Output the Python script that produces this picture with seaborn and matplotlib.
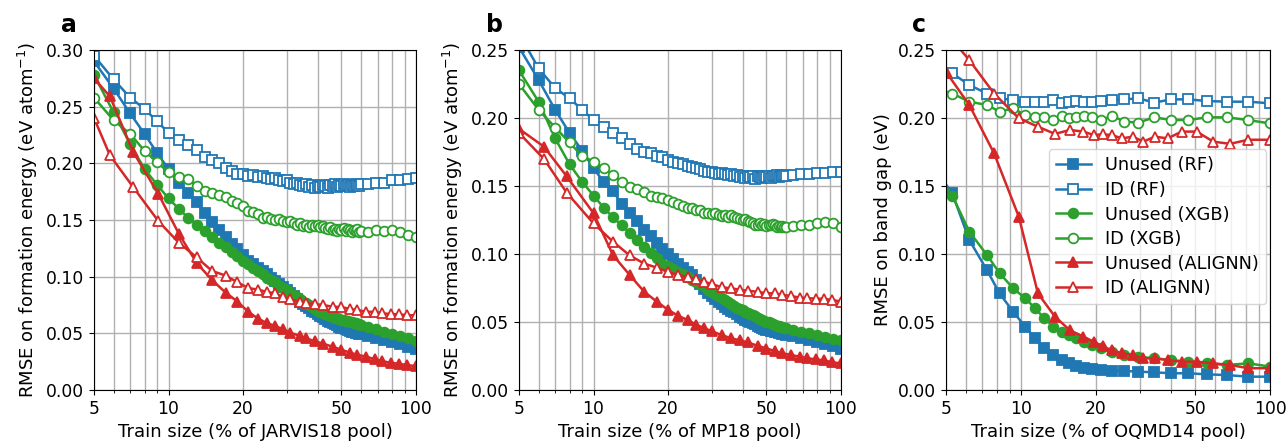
import numpy as np
import pandas as pd
import matplotlib
matplotlib.use("Agg")
import matplotlib.pyplot as plt
from matplotlib.ticker import FixedLocator, NullFormatter, FormatStrFormatter
import seaborn as sns

# ---------------- data ----------------
# train-size grid (% of pool) for RF / XGB in panels a and b
x_tree_ab = [5, 6, 7, 8, 9, 10, 11, 12, 13, 14, 15, 16, 17, 18, 19, 20,
             21, 22, 23, 24, 25, 26, 27, 28, 29, 30, 31, 32, 33, 34, 35,
             36, 37, 38, 39, 40, 41, 42, 43, 44, 45, 46, 47, 48, 49, 50,
             51, 52, 53, 54, 55, 56, 57, 58, 59, 60, 64, 69, 74, 80, 86, 93, 100]

# Panel a (JARVIS18)
a_unused_rf = [0.290, 0.266, 0.244, 0.226, 0.209, 0.195, 0.183, 0.174, 0.166, 0.156, 0.148,
               0.141, 0.135, 0.129, 0.124, 0.119, 0.114, 0.111, 0.108, 0.105, 0.102, 0.099,
               0.096, 0.0935, 0.091, 0.088, 0.0855, 0.083, 0.0805, 0.078, 0.076, 0.074, 0.072,
               0.070, 0.0685, 0.067, 0.0655, 0.064, 0.0625, 0.061, 0.060, 0.059, 0.058, 0.057,
               0.056, 0.055, 0.0543, 0.0535, 0.0528, 0.052, 0.0515, 0.051, 0.0505, 0.050,
               0.0495, 0.049, 0.0475, 0.0455, 0.044, 0.042, 0.0405, 0.038, 0.036]
a_id_rf = [0.295, 0.274, 0.258, 0.248, 0.237, 0.227, 0.221, 0.216, 0.212, 0.206, 0.203,
           0.200, 0.196, 0.193, 0.191, 0.191, 0.189, 0.190, 0.188, 0.189, 0.187, 0.186,
           0.187, 0.185, 0.184, 0.185, 0.183, 0.182, 0.183, 0.181, 0.180, 0.182, 0.179,
           0.181, 0.178, 0.180, 0.179, 0.181, 0.180, 0.178, 0.181, 0.180, 0.182, 0.179,
           0.181, 0.180, 0.182, 0.180, 0.181, 0.179, 0.181, 0.180, 0.182, 0.181, 0.180,
           0.182, 0.182, 0.183, 0.183, 0.185, 0.185, 0.186, 0.187]
a_unused_xgb = [0.278, 0.245, 0.217, 0.195, 0.181, 0.169, 0.160, 0.152, 0.146, 0.140, 0.135,
                0.130, 0.126, 0.122, 0.118, 0.114, 0.111, 0.108, 0.105, 0.102, 0.099, 0.097,
                0.095, 0.092, 0.090, 0.088, 0.086, 0.084, 0.082, 0.080, 0.078, 0.0765, 0.075,
                0.073, 0.0715, 0.070, 0.069, 0.068, 0.067, 0.066, 0.065, 0.0644, 0.0638, 0.0632,
                0.0626, 0.062, 0.0615, 0.061, 0.0605, 0.060, 0.0596, 0.0592, 0.0588, 0.0584,
                0.058, 0.0575, 0.0558, 0.0535, 0.0515, 0.0495, 0.0475, 0.0455, 0.0435]
a_id_xgb = [0.258, 0.238, 0.226, 0.211, 0.201, 0.192, 0.188, 0.186, 0.180, 0.176, 0.174,
            0.172, 0.170, 0.167, 0.165, 0.162, 0.158, 0.157, 0.155, 0.152, 0.153, 0.151,
            0.150, 0.151, 0.149, 0.148, 0.149, 0.147, 0.146, 0.147, 0.145, 0.146, 0.144,
            0.146, 0.145, 0.146, 0.144, 0.145, 0.143, 0.142, 0.144, 0.141, 0.142, 0.140,
            0.142, 0.141, 0.143, 0.140, 0.142, 0.141, 0.139, 0.141, 0.140, 0.142, 0.139,
            0.140, 0.139, 0.141, 0.140, 0.141, 0.139, 0.137, 0.135]

x_aln_a = [5, 5.8, 7.2, 9.1, 11, 13, 15, 17, 19, 21, 23, 25, 27, 29, 31, 34, 36, 39,
           42, 46, 50, 54, 58, 63, 68, 73, 79, 85, 92, 100]
a_unused_aln = [0.275, 0.259, 0.210, 0.173, 0.138, 0.112, 0.097, 0.086, 0.078, 0.069,
                0.063, 0.059, 0.0565, 0.0536, 0.0506, 0.0477, 0.0456, 0.0430, 0.0410,
                0.0382, 0.0355, 0.0330, 0.0310, 0.0294, 0.0272, 0.0255, 0.0240, 0.0232,
                0.0220, 0.0210]
a_id_aln = [0.240, 0.207, 0.179, 0.149, 0.130, 0.117, 0.105, 0.101, 0.095, 0.090,
            0.0885, 0.0865, 0.0853, 0.0824, 0.080, 0.078, 0.077, 0.0758, 0.075, 0.0735,
            0.0732, 0.0715, 0.0706, 0.069, 0.069, 0.0677, 0.067, 0.0668, 0.066, 0.066]

# Panel b (MP18)
b_unused_rf = [0.252, 0.228, 0.206, 0.189, 0.176, 0.163, 0.153, 0.146, 0.137, 0.130, 0.124,
               0.118, 0.113, 0.108, 0.104, 0.100, 0.096, 0.093, 0.090, 0.087, 0.0845, 0.081,
               0.078, 0.0745, 0.0712, 0.069, 0.067, 0.065, 0.063, 0.0613, 0.0598, 0.0583,
               0.057, 0.0556, 0.0540, 0.0527, 0.0517, 0.0507, 0.0498, 0.049, 0.0482, 0.0468,
               0.0461, 0.0454, 0.0448, 0.0443, 0.0439, 0.0436, 0.0433, 0.043, 0.0426, 0.0422,
               0.0418, 0.0414, 0.041, 0.0406, 0.0394, 0.038, 0.0368, 0.0355, 0.0338, 0.0322,
               0.0305]
b_id_rf = [0.262, 0.2365, 0.222, 0.2145, 0.206, 0.1985, 0.1936, 0.1887, 0.185, 0.181, 0.177,
           0.175, 0.174, 0.172, 0.1715, 0.169, 0.168, 0.167, 0.166, 0.1645, 0.164, 0.163,
           0.1625, 0.161, 0.1605, 0.160, 0.1595, 0.159, 0.1592, 0.1588, 0.158, 0.1585, 0.157,
           0.1578, 0.1565, 0.1573, 0.156, 0.1575, 0.1565, 0.157, 0.1555, 0.1572, 0.1568,
           0.156, 0.1575, 0.1565, 0.1572, 0.1562, 0.1575, 0.157, 0.1578, 0.1568, 0.158,
           0.1572, 0.1582, 0.1575, 0.158, 0.1585, 0.159, 0.1593, 0.1595, 0.160, 0.1605]
b_unused_xgb = [0.235, 0.212, 0.185, 0.166, 0.153, 0.143, 0.134, 0.127, 0.121, 0.1155, 0.110,
                0.105, 0.101, 0.097, 0.093, 0.091, 0.089, 0.087, 0.085, 0.083, 0.081, 0.0795,
                0.078, 0.0765, 0.0737, 0.072, 0.0705, 0.069, 0.0675, 0.066, 0.0646, 0.0632,
                0.0618, 0.0605, 0.0594, 0.0585, 0.0576, 0.0567, 0.0558, 0.055, 0.0542, 0.0530,
                0.0523, 0.0516, 0.0509, 0.0503, 0.0497, 0.0491, 0.0485, 0.0478, 0.0474, 0.047,
                0.0465, 0.0461, 0.0457, 0.0453, 0.044, 0.0428, 0.0417, 0.0402, 0.0388, 0.0376,
                0.0365]
b_id_xgb = [0.225, 0.206, 0.193, 0.182, 0.172, 0.168, 0.163, 0.158, 0.153, 0.1495, 0.148,
            0.1455, 0.143, 0.142, 0.141, 0.1395, 0.1385, 0.137, 0.1355, 0.134, 0.1336, 0.132,
            0.1325, 0.1305, 0.130, 0.1295, 0.1305, 0.129, 0.1282, 0.1287, 0.1275, 0.129,
            0.127, 0.1265, 0.1255, 0.125, 0.126, 0.1245, 0.1235, 0.1225, 0.1215, 0.1213,
            0.1225, 0.121, 0.122, 0.1205, 0.1215, 0.121, 0.1218, 0.1213, 0.120, 0.1208,
            0.1195, 0.1205, 0.1198, 0.120, 0.1205, 0.121, 0.1213, 0.1225, 0.1238, 0.1225,
            0.1196]

x_aln_b = [5, 6.3, 7.8, 10, 12, 14, 16, 18, 20, 22, 24, 26, 28, 30, 33, 36, 39, 42, 46,
           50, 54, 58, 63, 68, 73, 79, 85, 92, 100]
b_unused_aln = [0.192, 0.179, 0.157, 0.130, 0.099, 0.0846, 0.0724, 0.065, 0.059, 0.0545,
                0.0515, 0.048, 0.0455, 0.0432, 0.0404, 0.038, 0.0365, 0.035, 0.0325, 0.0305,
                0.0287, 0.027, 0.0257, 0.0245, 0.0234, 0.0225, 0.0218, 0.0205, 0.0195]
b_id_aln = [0.189, 0.170, 0.145, 0.1225, 0.109, 0.099, 0.093, 0.090, 0.0868, 0.0846, 0.083,
            0.0815, 0.0795, 0.078, 0.0755, 0.0748, 0.0737, 0.073, 0.0722, 0.0711, 0.0711,
            0.070, 0.069, 0.068, 0.0675, 0.0672, 0.067, 0.0662, 0.065]

# Panel c (OQMD14, band gap)
x_tree_c = [4.7, 5.3, 6.2, 7.3, 8.2, 9.3, 10.4, 11.4, 12.4, 13.5, 14.6, 15.6, 16.7, 17.9,
            19.2, 20.9, 23.3, 26, 29.6, 34.3, 40.1, 47, 55.7, 67, 81.8, 100]
c_unused_rf = [0.158, 0.1446, 0.1103, 0.0882, 0.0711, 0.0576, 0.0466, 0.038, 0.0306, 0.0257,
               0.022, 0.0196, 0.0176, 0.016, 0.0152, 0.0147, 0.0142, 0.014, 0.0135, 0.013,
               0.0123, 0.0123, 0.0115, 0.011, 0.0098, 0.0098]
c_id_rf = [0.237, 0.2328, 0.2243, 0.218, 0.2145, 0.2132, 0.212, 0.212, 0.212, 0.2132, 0.2108,
           0.212, 0.2127, 0.212, 0.212, 0.2127, 0.2132, 0.2137, 0.2145, 0.2113, 0.2137,
           0.2137, 0.2125, 0.212, 0.212, 0.2108]
c_unused_xgb = [0.156, 0.1429, 0.1165, 0.0993, 0.086, 0.0748, 0.0674, 0.0601, 0.0527, 0.0466,
                0.043, 0.0404, 0.038, 0.0355, 0.0331, 0.0306, 0.0282, 0.0257, 0.0245, 0.0233,
                0.022, 0.0208, 0.0196, 0.0184, 0.0196, 0.0172]
c_id_xgb = [0.221, 0.218, 0.212, 0.2096, 0.2047, 0.2071, 0.2022, 0.201, 0.2005, 0.1985,
            0.2015, 0.1998, 0.201, 0.2015, 0.201, 0.1985, 0.2015, 0.1973, 0.1966, 0.2005,
            0.1985, 0.1985, 0.2005, 0.2005, 0.1985, 0.196]
x_aln_c = [5.05, 6.2, 7.8, 9.8, 11.7, 13.7, 15.7, 17.8, 19.6, 21.3, 23.1, 25.5, 28.1, 31,
           34.5, 38.8, 44.2, 50.8, 59.2, 69.1, 81.8, 100]
c_unused_aln = [0.2328, 0.2096, 0.174, 0.1275, 0.071, 0.0539, 0.044, 0.0392, 0.0355, 0.032,
                0.0294, 0.027, 0.0257, 0.0233, 0.0233, 0.022, 0.0208, 0.0208, 0.0196, 0.0184,
                0.016, 0.016]
c_id_aln = [0.262, 0.2426, 0.218, 0.1998, 0.1936, 0.1883, 0.1912, 0.190, 0.1875, 0.188,
            0.1875, 0.185, 0.1863, 0.1826, 0.1863, 0.185, 0.190, 0.190, 0.1826, 0.181,
            0.184, 0.184]

series_labels = ["Unused (RF)", "ID (RF)", "Unused (XGB)", "ID (XGB)",
                 "Unused (ALIGNN)", "ID (ALIGNN)"]
pool_names = ["JARVIS18", "MP18", "OQMD14"]
panel_letters = ["a", "b", "c"]
ylabels = ["RMSE on formation energy (eV atom$^{-1}$)",
           "RMSE on formation energy (eV atom$^{-1}$)",
           "RMSE on band gap (eV)"]
ymax = [0.30, 0.25, 0.25]

panels = [
    [(x_tree_ab, a_unused_rf), (x_tree_ab, a_id_rf), (x_tree_ab, a_unused_xgb),
     (x_tree_ab, a_id_xgb), (x_aln_a, a_unused_aln), (x_aln_a, a_id_aln)],
    [(x_tree_ab, b_unused_rf), (x_tree_ab, b_id_rf), (x_tree_ab, b_unused_xgb),
     (x_tree_ab, b_id_xgb), (x_aln_b, b_unused_aln), (x_aln_b, b_id_aln)],
    [(x_tree_c, c_unused_rf), (x_tree_c, c_id_rf), (x_tree_c, c_unused_xgb),
     (x_tree_c, c_id_xgb), (x_aln_c, c_unused_aln), (x_aln_c, c_id_aln)],
]

colors = ["#1f77b4", "#1f77b4", "#2ca02c", "#2ca02c", "#d62728", "#d62728"]
markers = ["s", "s", "o", "o", "^", "^"]
filled = [True, False, True, False, True, False]

# ---------------- figure ----------------
plt.rcParams["font.family"] = ["DejaVu Sans"]
plt.rcParams["font.size"] = 12

fig = plt.figure(figsize=(12.86, 4.44), dpi=100)
lefts = [94 / 1286, 519 / 1286, 946 / 1286]
widths = [322 / 1286, 322 / 1286, 324 / 1286]
bottom = (444 - 390) / 444
height = 340 / 444
letter_x = [69 / 1286, 494 / 1286, 919 / 1286]

for i in range(3):
    ax = fig.add_axes([lefts[i], bottom, widths[i], height])
    for j, (xs, ys) in enumerate(panels[i]):
        c = colors[j]
        df = pd.DataFrame({"x": xs, "y": ys})
        sns.lineplot(data=df, x="x", y="y", ax=ax, color=c, marker=markers[j],
                     markersize=7.5 if markers[j] == "^" else 7,
                     markerfacecolor=c if filled[j] else "white",
                     markeredgecolor=c, markeredgewidth=1.3, linewidth=1.8,
                     label=series_labels[j], sort=False, estimator=None,
                     legend=False)
    ax.set_xscale("log")
    ax.set_xlim(5, 100)
    ax.set_ylim(0, ymax[i])
    ax.xaxis.set_major_locator(FixedLocator([5, 10, 20, 50, 100]))
    ax.set_xticklabels(["5", "10", "20", "50", "100"])
    ax.xaxis.set_minor_locator(FixedLocator([6, 7, 8, 9, 30, 40, 60, 70, 80, 90]))
    ax.xaxis.set_minor_formatter(NullFormatter())
    ax.set_yticks(np.arange(0, ymax[i] + 1e-9, 0.05))
    ax.yaxis.set_major_formatter(FormatStrFormatter("%.2f"))
    ax.grid(True, which="major", axis="both", color="#b0b0b0", linewidth=1.0)
    ax.grid(True, which="minor", axis="x", color="#b0b0b0", linewidth=1.0)
    ax.set_axisbelow(True)
    ax.tick_params(labelsize=12.3)
    ax.set_xlabel(f"Train size (% of {pool_names[i]} pool)", fontsize=13)
    ax.set_ylabel(ylabels[i], fontsize=13)
    fig.text(letter_x[i], 1 - 25 / 444, panel_letters[i], fontsize=17,
             fontweight="bold", ha="center", va="center")
    if i == 2:
        ax.legend(loc="center right", bbox_to_anchor=(1.0, 0.48), fontsize=12.8,
                  handlelength=2.0, borderaxespad=0.2, labelspacing=0.37)

fig.savefig("out.png", dpi=100)
